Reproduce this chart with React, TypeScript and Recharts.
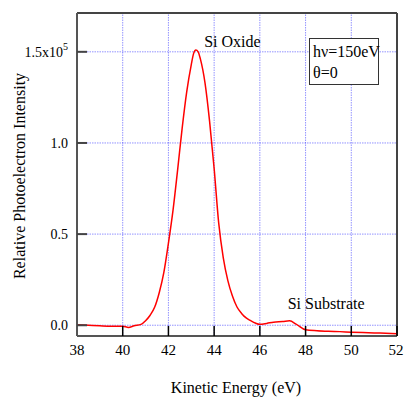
import { LineChart, Line, XAxis, YAxis, ReferenceLine, ReferenceDot } from "recharts";

// kinetic energy (eV) and relative intensity (x1e5)
const energy = [
  38.0, 38.5, 39.0, 39.5, 40.0, 40.25, 40.5, 40.8, 41.0, 41.2, 41.4, 41.6, 41.8, 42.0, 42.2, 42.4, 42.6, 42.8, 43.0,
  43.1, 43.2, 43.3, 43.4, 43.6, 43.8, 44.0, 44.2, 44.4, 44.6, 44.8, 45.0, 45.2, 45.4, 45.6, 45.8, 46.0, 46.3, 46.6,
  47.0, 47.3, 47.6, 48.0, 48.5, 49.0, 49.5, 50.0, 50.5, 51.0, 51.5, 52.0,
];
const intensity = [
  0.003, 0.0, -0.003, -0.005, -0.005, -0.012, -0.003, 0.005, 0.025, 0.055, 0.1, 0.18, 0.29, 0.45, 0.63, 0.85, 1.08,
  1.28, 1.43, 1.49, 1.51, 1.5, 1.46, 1.33, 1.12, 0.86, 0.56, 0.37, 0.245, 0.16, 0.1, 0.065, 0.04, 0.025, 0.012, 0.005,
  0.01, 0.017, 0.02, 0.024, 0.005, -0.025, -0.03, -0.033, -0.035, -0.038, -0.04, -0.042, -0.044, -0.046,
];
const xTicks = [38, 40, 42, 44, 46, 48, 50, 52];
const yTicks = [0, 0.5, 1.0, 1.5];
const yTickLabels = ["0.0", "0.5", "1.0", "1.5x10"];
const xGrid = [40, 42, 44, 46, 48, 50];

const data = energy.map((e, i) => ({ e, v: intensity[i] }));

const FONT = "Liberation Serif";
const GRID = "#2a2aff";
const Y_MIN = -0.059;
const Y_MAX = 1.713;

function XTick(props: any) {
  const { x, y, payload } = props;
  return (
    <text x={x} y={y} dy={11} textAnchor="middle" fontFamily={FONT} style={{ fontFamily: FONT }} fontSize={15} fill="#000">
      {payload.value}
    </text>
  );
}

function YTick(props: any) {
  const { x, y, payload } = props;
  const i = yTicks.indexOf(payload.value);
  return (
    <text x={x - 1} y={y} dy={5} textAnchor="end" fontFamily={FONT} style={{ fontFamily: FONT }} fontSize={14} fill="#000">
      {yTickLabels[i]}
      {payload.value === 1.5 && (
        <tspan dy={-7} fontSize={10}>
          5
        </tspan>
      )}
    </text>
  );
}

function YTitle() {
  return (
    <text x={25} y={176} transform="rotate(-90 25 176)" textAnchor="middle" fontFamily={FONT} style={{ fontFamily: FONT }} fontSize={16} fill="#000">
      Relative Photoelectron Intensity
    </text>
  );
}

function XTitle() {
  return (
    <text x={236} y={393} textAnchor="middle" fontFamily={FONT} style={{ fontFamily: FONT }} fontSize={16} fill="#000">
      Kinetic Energy (eV)
    </text>
  );
}

export default function App() {
  return (
    <div style={{ position: "absolute", left: 0, top: 0, width: 404, height: 398, background: "#fff" }}>
      <LineChart width={404} height={398} data={data} margin={{ top: 13, right: 7, left: 0, bottom: 0 }}>
        <XAxis
          dataKey="e"
          type="number"
          domain={[38, 52]}
          ticks={xTicks}
          height={62}
          axisLine={{ stroke: "#555", strokeWidth: 2 }}
          tickLine={{ stroke: "#000", strokeWidth: 1.5 }}
          tickSize={-10}
          tickMargin={18}
          tick={<XTick />}
          label={<XTitle />}
        />
        <YAxis
          type="number"
          domain={[Y_MIN, Y_MAX]}
          ticks={yTicks}
          width={77}
          allowDataOverflow
          axisLine={{ stroke: "#555", strokeWidth: 2 }}
          tickLine={{ stroke: "#444", strokeWidth: 2 }}
          tickSize={-10}
          tickMargin={18}
          tick={<YTick />}
          label={<YTitle />}
        />
        {xGrid.map((g) => (
          <ReferenceLine key={"x" + g} x={g} stroke={GRID} strokeOpacity={0.5} strokeWidth={1} strokeDasharray="1.5 1" />
        ))}
        {yTicks.map((g) => (
          <ReferenceLine key={"y" + g} y={g} stroke={GRID} strokeOpacity={0.5} strokeWidth={1} strokeDasharray="1.5 1" />
        ))}
        <ReferenceLine y={Y_MAX} stroke="#444" strokeWidth={2} />
        <ReferenceLine x={52} stroke="#444" strokeWidth={2} />
        <Line type="monotone" dataKey="v" stroke="#ff0000" strokeWidth={1.5} dot={false} isAnimationActive={false} />
        <ReferenceDot
          x={44.8}
          y={1.56}
          r={0}
          label={{ value: "Si Oxide", position: "center", fontFamily: FONT, style: { fontFamily: FONT }, fontSize: 16, fill: "#000" }}
        />
        <ReferenceDot
          x={48.9}
          y={0.12}
          r={0}
          label={{ value: "Si Substrate", position: "center", fontFamily: FONT, style: { fontFamily: FONT }, fontSize: 16, fill: "#000" }}
        />
      </LineChart>
      <div
        style={{
          position: "absolute",
          left: 309,
          top: 38,
          width: 70,
          height: 47,
          border: "1.5px solid #333",
          background: "#fff",
          fontFamily: FONT,
          fontSize: 16,
          lineHeight: "21px",
          padding: "2px 0 0 3px",
          boxSizing: "border-box",
          color: "#000",
        }}
      >
        <div>hν=150eV</div>
        <div>θ=0</div>
      </div>
    </div>
  );
}
